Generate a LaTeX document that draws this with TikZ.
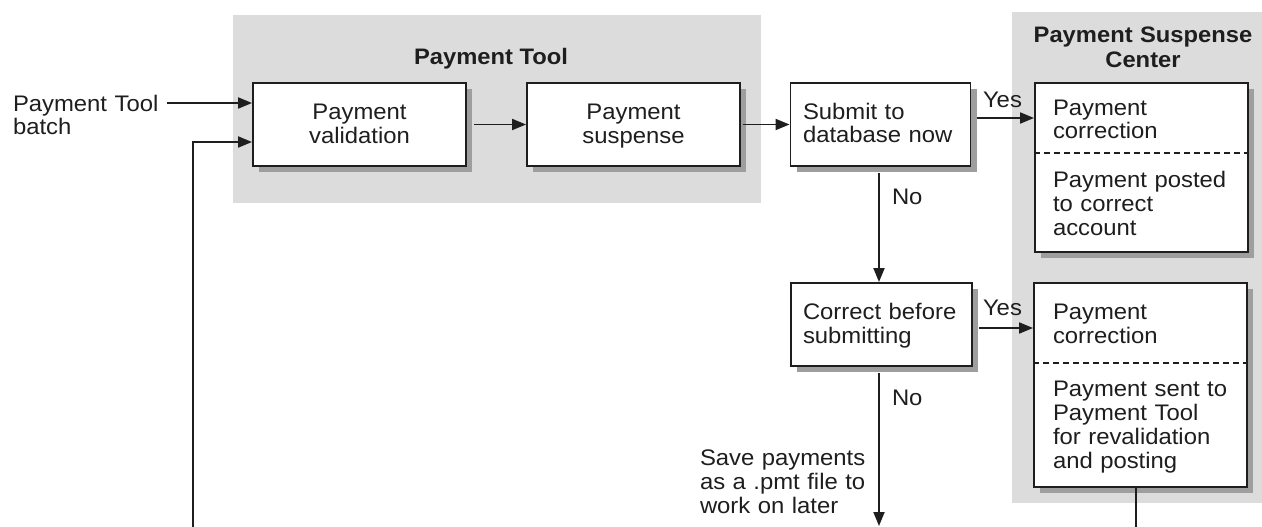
\documentclass[tikz,border=0pt]{standalone}
\usepackage{fontspec}
\setmainfont{Liberation Sans}[FakeStretch=1.06]
\usetikzlibrary{arrows.meta,shadows}
\definecolor{regiongray}{HTML}{DCDCDC}
\definecolor{linecol}{HTML}{1E1E1E}
\tikzset{
  region/.style={fill=regiongray, draw=none},
  procbox/.style={draw=linecol, line width=1.9pt, fill=white, inner sep=0pt,
    drop shadow={shadow xshift=6pt, shadow yshift=-6pt, fill=black!38, opacity=1}},
  txt/.style={inner sep=0pt, outer sep=0pt, font=\fontsize{22.5}{24}\selectfont, text=linecol},
  ttl/.style={inner sep=0pt, outer sep=0pt, font=\fontsize{22.4}{25}\selectfont\bfseries, text=linecol},
  arr/.style={draw=linecol, line width=1.9pt, -{Triangle[length=14pt,width=11pt]}},
  plain/.style={draw=linecol, line width=1.9pt},
  sep/.style={draw=linecol, line width=1.5pt, dash pattern=on 6pt off 4pt},
}
\begin{document}
\begin{tikzpicture}[x=1pt,y=-1pt]
\useasboundingbox (0,0) rectangle (1262,527);
\fill[white] (0,0) rectangle (1262,527);
% regions
\path[region] (233,15) rectangle (761,203);
\path[region] (1012,12) rectangle (1262,503);
% titles
\node[ttl, anchor=base] (tPT) at (491,65) {Payment Tool};
\node[ttl, anchor=base, text width=240pt, align=center] (tPSC) at (1143,43) {Payment Suspense\\Center};
% boxes
\node[procbox, minimum width=213pt, minimum height=83pt] (val) at (359.5,124.5) {};
\node[procbox, minimum width=213pt, minimum height=83pt] (sus) at (633.5,124.5) {};
\node[procbox, minimum width=180pt, minimum height=83pt] (sub) at (880.5,124.5) {};
\node[procbox, minimum width=181pt, minimum height=83pt] (cor) at (881.5,324.5) {};
\node[procbox, minimum width=213pt, minimum height=169pt] (psc1) at (1141.5,167.5) {};
\node[procbox, minimum width=213pt, minimum height=204pt] (psc2) at (1140.5,385) {};
% dashed separators
\draw[sep] (psc1.west |- 0,153) -- (psc1.east |- 0,153);
\draw[sep] (psc2.west |- 0,363) -- (psc2.east |- 0,363);
% box texts
\node[txt, anchor=base, text width=200pt, align=center] (valT) at (359.5,120) {Payment\\validation};
\node[txt, anchor=base, text width=200pt, align=center] (susT) at (633.5,120) {Payment\\suspense};
\node[txt, anchor=base west, text width=175pt, align=left] (subT) at (803,119) {Submit to\\database now};
\node[txt, anchor=base west, text width=175pt, align=left] (corT) at (803,319) {Correct before\\submitting};
\node[txt, anchor=base west, text width=200pt, align=left] (p1a) at (1053,115) {Payment\\correction};
\node[txt, anchor=base west, text width=200pt, align=left] (p1b) at (1053,187) {Payment posted\\to correct\\account};
\node[txt, anchor=base west, text width=200pt, align=left] (p2a) at (1053,319) {Payment\\correction};
\node[txt, anchor=base west, text width=200pt, align=left] (p2b) at (1053,396) {Payment sent to\\Payment Tool\\for revalidation\\and posting};
% free labels
\node[txt, anchor=base west, text width=160pt, align=left] (inT) at (13,111) {Payment Tool\\batch};
\node[txt, anchor=base west] (yes1) at (983,107) {Yes};
\node[txt, anchor=base west] (yes2) at (983,315) {Yes};
\node[txt, anchor=base west] (no1) at (892,204) {No};
\node[txt, anchor=base west] (no2) at (892,405) {No};
\node[txt, anchor=base west, text width=170pt, align=left] (saveT) at (700,465) {Save payments\\as a .pmt file to\\work on later};
% coordinates
\coordinate (inA) at (167,103);
\coordinate (loopB) at (193,528);
\coordinate (loopC) at (193,142);
\coordinate (y1) at (0,118);
\coordinate (y2) at (0,328);
\coordinate (downEnd) at (879,526);
\coordinate (vx) at (879,0);
\coordinate (outTop) at (1136,487);
\coordinate (outEnd) at (1136,528);
% connectors
\draw[arr] (inA) -- (inA -| val.west);
\draw[arr] (loopB) -- (loopC) -- (loopC -| val.west);
\draw[arr, shorten <=7pt] (val.east) -- (sus.west);
\draw[arr, shorten <=2pt] (sus.east) -- (sub.west);
\draw[arr, shorten <=6pt] (sub.east |- y1) -- (psc1.west |- y1);
\draw[arr, shorten <=6pt] (vx |- sub.south) -- (vx |- cor.north);
\draw[arr, shorten <=6pt] (cor.east |- y2) -- (psc2.west |- y2);
\draw[arr, shorten <=6pt] (vx |- cor.south) -- (downEnd);
\draw[plain] (outTop) -- (outEnd);
\end{tikzpicture}
\end{document}
